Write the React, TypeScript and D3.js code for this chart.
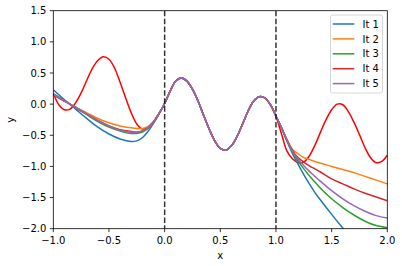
import React from "react";
import * as d3 from "d3";

const trueX = d3.range(61).map((i) => -1 + i * 0.05);
const trueY = [
  0.17, -0.01, -0.09, -0.08, 0.02, 0.18, 0.38, 0.57, 0.70, 0.76, 0.72, 0.58, 0.35, 0.10, -0.14, -0.32, -0.40, -0.37,
  -0.28, -0.15, 0.01, 0.21, 0.37, 0.42, 0.37, 0.24, 0.05, -0.18, -0.40, -0.59, -0.71, -0.74, -0.67, -0.52, -0.32,
  -0.11, 0.05, 0.12, 0.10, -0.01, -0.20, -0.48, -0.76, -0.88, -0.94, -0.93, -0.83, -0.66, -0.45, -0.25, -0.09, 0.0,
  -0.01, -0.12, -0.29, -0.49, -0.70, -0.86, -0.94, -0.92, -0.82,
];

const iterX = [
  -1, -0.9, -0.8, -0.7, -0.6, -0.5, -0.4, -0.3, -0.25, -0.2, -0.15, -0.1, -0.05, 0, 0.05, 0.1, 0.15, 0.2, 0.25, 0.3,
  0.35, 0.4, 0.45, 0.5, 0.55, 0.6, 0.65, 0.7, 0.75, 0.8, 0.85, 0.9, 0.95, 1.0, 1.05, 1.1, 1.15, 1.2, 1.25, 1.3, 1.35,
  1.4, 1.5, 1.6, 1.7, 1.8, 1.9, 2.0,
];

const it1 = [
  0.23, 0.07, -0.08, -0.23, -0.37, -0.48, -0.56, -0.60, -0.59, -0.54, -0.44, -0.31, -0.16, 0.01, 0.21, 0.37, 0.42,
  0.37, 0.24, 0.05, -0.18, -0.40, -0.59, -0.71, -0.74, -0.67, -0.52, -0.32, -0.11, 0.05, 0.12, 0.10, -0.01, -0.19,
  -0.38, -0.60, -0.80, -0.97, -1.13, -1.28, -1.42, -1.54, -1.77, -1.99, -2.2, -2.4, -2.6, -2.8,
];
const it2 = [
  0.15, 0.05, -0.05, -0.14, -0.23, -0.30, -0.35, -0.38, -0.39, -0.39, -0.36, -0.28, -0.15, 0.01, 0.21, 0.37, 0.42,
  0.37, 0.24, 0.05, -0.18, -0.40, -0.59, -0.71, -0.74, -0.67, -0.52, -0.32, -0.11, 0.05, 0.12, 0.10, -0.01, -0.19,
  -0.38, -0.57, -0.73, -0.80, -0.86, -0.89, -0.92, -0.95, -1.0, -1.05, -1.10, -1.16, -1.22, -1.28,
];
const it3 = [
  0.17, 0.06, -0.06, -0.17, -0.28, -0.37, -0.43, -0.47, -0.47, -0.45, -0.39, -0.29, -0.15, 0.01, 0.21, 0.37, 0.42,
  0.37, 0.24, 0.05, -0.18, -0.40, -0.59, -0.71, -0.74, -0.67, -0.52, -0.32, -0.11, 0.05, 0.12, 0.10, -0.01, -0.19,
  -0.38, -0.59, -0.78, -0.92, -1.04, -1.15, -1.25, -1.35, -1.52, -1.66, -1.78, -1.88, -1.95, -1.985,
];
const it4 = [
  0.15, 0.05, -0.05, -0.16, -0.26, -0.35, -0.41, -0.44, -0.45, -0.43, -0.38, -0.29, -0.15, 0.01, 0.21, 0.37, 0.42,
  0.37, 0.24, 0.05, -0.18, -0.40, -0.59, -0.71, -0.74, -0.67, -0.52, -0.32, -0.11, 0.05, 0.12, 0.10, -0.01, -0.19,
  -0.38, -0.58, -0.75, -0.86, -0.93, -0.99, -1.04, -1.09, -1.20, -1.28, -1.36, -1.43, -1.49, -1.55,
];
const it5 = [
  0.16, 0.05, -0.05, -0.16, -0.26, -0.35, -0.42, -0.45, -0.45, -0.43, -0.38, -0.29, -0.15, 0.01, 0.21, 0.37, 0.42,
  0.37, 0.24, 0.05, -0.18, -0.40, -0.59, -0.71, -0.74, -0.67, -0.52, -0.32, -0.11, 0.05, 0.12, 0.10, -0.01, -0.19,
  -0.38, -0.58, -0.76, -0.89, -0.99, -1.08, -1.16, -1.24, -1.39, -1.52, -1.63, -1.72, -1.79, -1.83,
];

const seriesNames = ["It 1", "It 2", "It 3", "It 4", "It 5"];
const seriesValues = [it1, it2, it3, it4, it5];
const seriesColors = ["#1f77b4", "#ff7f0e", "#2ca02c", "#d62728", "#9467bd"];
const vLines = [0, 1];
const xTicks = [-1, -0.5, 0, 0.5, 1, 1.5, 2];
const yTicks = [1.5, 1, 0.5, 0, -0.5, -1, -1.5, -2];

const W = 402;
const H = 266;
const L = 53.3;
const R = 387.3;
const T = 10.7;
const B = 228.7;
const FONT = "DejaVu Sans, sans-serif";

const fmt = (v: number) => {
  const s = Math.abs(v).toFixed(1);
  return v < 0 ? "\u2212" + s : s;
};

export default function App() {
  const x = d3.scaleLinear().domain([-1, 2]).range([L, R]);
  const y = d3.scaleLinear().domain([-2, 1.5]).range([B, T]);
  const line = d3
    .line<[number, number]>()
    .x((d) => x(d[0]))
    .y((d) => y(d[1]))
    .curve(d3.curveCatmullRom.alpha(0.5));

  const truePath = line(trueX.map((v, i) => [v, trueY[i]] as [number, number])) || "";
  const iterPaths = seriesValues.map(
    (vals) => line(iterX.map((v, i) => [v, vals[i]] as [number, number])) || ""
  );

  const legX = 330.5;
  const legY = 15;
  const legW = 52;
  const legH = 78;
  const rowY = (i: number) => 24 + i * 14.9;

  return (
    <svg
      width={W}
      height={H}
      style={{ position: "absolute", left: 0, top: 0, background: "#fff" }}
      fontFamily={FONT}
    >
      <defs>
        <clipPath id="plotclip">
          <rect x={L} y={T} width={R - L} height={B - T} />
        </clipPath>
      </defs>
      <rect x={0} y={0} width={W} height={H} fill="#fff" />
      <g clipPath="url(#plotclip)">
        <path d={truePath} fill="none" stroke="#ff0000" strokeWidth={1.5} />
        {iterPaths.map((p, i) => (
          <path key={i} d={p} fill="none" stroke={seriesColors[i]} strokeWidth={1.5} />
        ))}
        {vLines.map((v) => (
          <line
            key={v}
            x1={x(v)}
            x2={x(v)}
            y1={T}
            y2={B}
            stroke="#000"
            strokeOpacity={0.8}
            strokeWidth={1.5}
            strokeDasharray="5.55,2.4"
          />
        ))}
      </g>
      {/* spines */}
      <rect x={L} y={T} width={R - L} height={B - T} fill="none" stroke="#000" strokeWidth={0.8} />
      {/* x ticks */}
      {xTicks.map((t) => (
        <g key={"x" + t}>
          <line x1={x(t)} x2={x(t)} y1={B} y2={B + 3.5} stroke="#000" strokeWidth={0.8} />
          <text x={x(t)} y={B + 15} fontSize={10} textAnchor="middle" fill="#000">
            {fmt(t)}
          </text>
        </g>
      ))}
      {/* y ticks */}
      {yTicks.map((t) => (
        <g key={"y" + t}>
          <line x1={L - 3.5} x2={L} y1={y(t)} y2={y(t)} stroke="#000" strokeWidth={0.8} />
          <text x={L - 7} y={y(t)} dy="0.36em" fontSize={10} textAnchor="end" fill="#000">
            {fmt(t)}
          </text>
        </g>
      ))}
      <text x={(L + R) / 2} y={258.5} fontSize={10} textAnchor="middle" fill="#000">
        x
      </text>
      <text transform={`translate(13.5,${(T + B) / 2}) rotate(-90)`} fontSize={10} textAnchor="middle" fill="#000">
        y
      </text>
      {/* legend */}
      <rect
        x={legX}
        y={legY}
        width={legW}
        height={legH}
        rx={2}
        ry={2}
        fill="#fff"
        fillOpacity={0.8}
        stroke="#cccccc"
        strokeWidth={0.8}
      />
      {seriesNames.map((n, i) => (
        <g key={n}>
          <line x1={332.7} x2={354.3} y1={rowY(i)} y2={rowY(i)} stroke={seriesColors[i]} strokeWidth={1.5} />
          <text x={362.5} y={rowY(i)} dy="0.36em" fontSize={10} fill="#000">
            {n}
          </text>
        </g>
      ))}
    </svg>
  );
}
